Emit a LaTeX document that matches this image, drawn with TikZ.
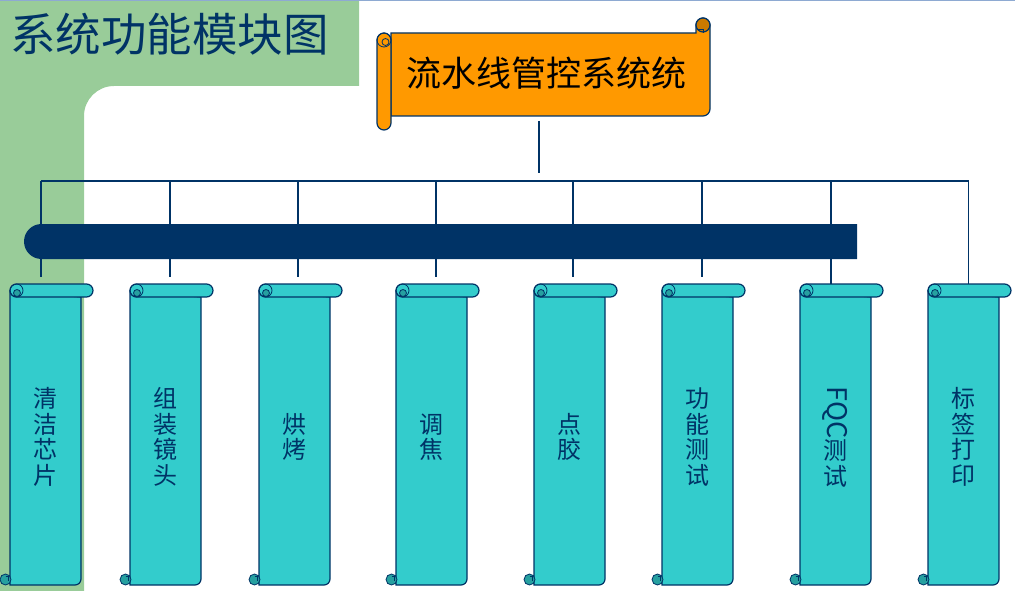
\documentclass[tikz,border=0pt]{standalone}
\usepackage{fontspec}
\setmainfont{Noto Sans CJK SC}
\definecolor{bggreen}{RGB}{153,204,153}
\definecolor{topblue}{RGB}{142,170,210}
\definecolor{navy}{RGB}{0,51,102}
\definecolor{scrollorange}{RGB}{255,153,0}
\definecolor{curlorange}{RGB}{204,122,0}
\definecolor{scrollteal}{RGB}{51,204,204}
\definecolor{curlteal}{RGB}{38,160,160}
\tikzset{
  outline/.style={draw=navy, line width=1.2pt},
  thinline/.style={draw=navy, line width=0.8pt},
  conn/.style={draw=navy, line width=1.1pt},
  modtext/.style={text=navy, align=center, inner sep=0pt, font=\fontsize{24}{25.5}\selectfont},
}
\begin{document}
\begin{tikzpicture}[x=1pt,y=-1pt]
\useasboundingbox (0,0) rectangle (1015,591);
% background
\fill[bggreen] (0,0) -- (359,0) -- (359,86) -- (114,86) arc[start angle=270,end angle=180,radius=30] -- (84,591) -- (0,591) -- cycle;
\draw[topblue, line width=1.5pt] (0,0.75) -- (1015,0.75);
\node[anchor=west, inner sep=0pt, text=navy, font=\fontsize{45.5}{50}\selectfont] (title) at (10,34) {系统功能模块图};
% main scroll
\filldraw[outline, fill=scrollorange] (391,33) -- (696,33) -- (696,25) arc[start angle=180,end angle=360,radius=7] -- (710,109) arc[start angle=0,end angle=90,radius=7] -- (391,116) -- cycle;
\filldraw[outline, fill=curlorange] (703,25) circle[radius=7];
\draw[thinline] (697,29) -- (703,29) -- (703,33);
\filldraw[outline, fill=scrollorange, rounded corners=7pt] (377,33) rectangle (391,130);
\draw[thinline] (384,40) circle[radius=7];
\draw[thinline] (385.5,42) circle[radius=3.5];
\node[inner sep=0pt, text=black, font=\fontsize{35}{40}\selectfont] (main) at (546.5,73) {流水线管控系统统};
% connectors
\coordinate (stemtop) at (539,121);
\coordinate (stembot) at (539,173);
\draw[conn] (stemtop) -- (stembot);
\coordinate (busL) at (41,181);
\coordinate (busR) at (968.5,181);
\draw[conn] (busL) -- (busR);
\foreach \lx/\le/\k in {41/277/1,170/277/2,298/277/3,436/277/4,573/277/5,702/277/6,831/284/7,968.5/284/8}{
  \coordinate (top\k) at (\lx,181);
  \coordinate (end\k) at (\lx,\le);
  \draw[conn] (top\k) -- (end\k);
}
% bar
\fill[navy] (857,224) -- (41.5,224) arc[start angle=270,end angle=90,radius=17.5] -- (857,259) -- cycle;
% modules
\foreach \L/\txt/\nm in {10/{清\\洁\\芯\\片}/m1, 130/{组\\装\\镜\\头}/m2, 259/{烘\\烤}/m3, 396/{调\\焦}/m4, 534/{点\\胶}/m5, 662/{功\\能\\测\\试}/m6, 800/{\rotatebox[origin=c]{-90}{\fontsize{27}{28}\selectfont FQC}\\测\\试}/m7, 928/{标\\签\\打\\印}/m8}{
  \filldraw[outline, fill=scrollteal] (\L,291) -- (\L,585) -- ({\L+65},585) arc[start angle=90,end angle=0,radius=6] -- ({\L+71},297) -- cycle;
  \filldraw[outline, fill=scrollteal, rounded corners=6.5pt] (\L,284) rectangle ({\L+83},297);
  \draw[thinline] ({\L+6.5},290.5) circle[radius=6.5];
  \filldraw[thinline, fill=curlteal] ({\L+7},293) circle[radius=3.5];
  \filldraw[thinline, fill=curlteal] ({\L-4.5},579.5) circle[radius=5.5];
  \draw[thinline] ({\L-4.5},576.5) -- ({\L-1.5},576.5) -- ({\L-1.5},581);
  \node[modtext] (\nm) at ({\L+35.5},437) {\txt};
}
\end{tikzpicture}
\end{document}
